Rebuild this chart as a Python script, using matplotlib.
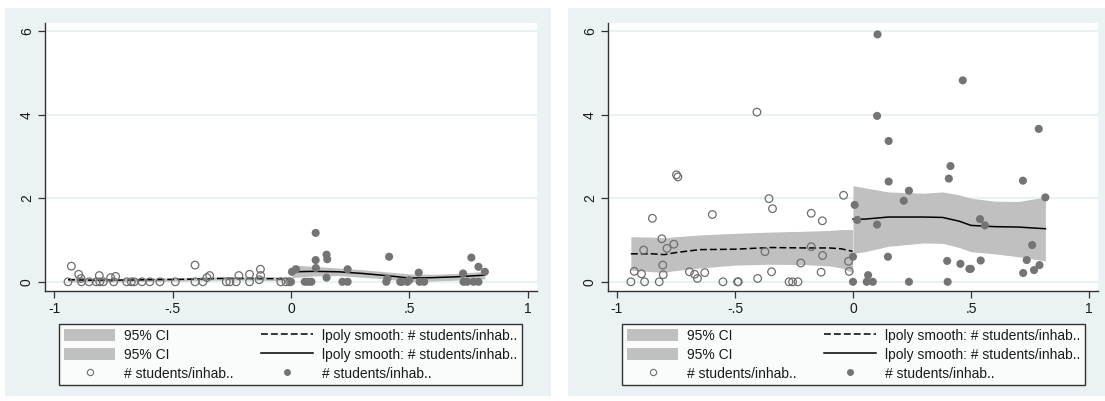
import matplotlib
matplotlib.use("Agg")
import matplotlib.pyplot as plt
from matplotlib.patches import Rectangle, Patch
from matplotlib.lines import Line2D

plt.rcParams['font.family'] = ['Liberation Sans', 'DejaVu Sans']

# ---------------- data ----------------
x_ticks = [-1, -0.5, 0, 0.5, 1]
x_tick_labels = ["-1", "-.5", "0", ".5", "1"]
y_ticks = [0, 2, 4, 6]
y_tick_labels = ["0", "2", "4", "6"]

legend_labels = ["95% CI", "95% CI", "# students/inhab..",
                 "lpoly smooth: # students/inhab..", "lpoly smooth: # students/inhab..",
                 "# students/inhab.."]

# Left panel: scatter (hollow = left of cutoff, filled = right of cutoff)
L_hollow_x = [-0.941, -0.927, -0.896, -0.886, -0.884, -0.852, -0.822, -0.809, -0.807, -0.792,
              -0.761, -0.748, -0.740, -0.693, -0.674, -0.662, -0.629, -0.596, -0.553, -0.488,
              -0.405, -0.405, -0.372, -0.355, -0.343, -0.273, -0.258, -0.231, -0.220, -0.175,
              -0.175, -0.129, -0.128, -0.134, -0.043, -0.021, -0.006]
L_hollow_y = [0.0, 0.375, 0.18, 0.08, 0.0, 0.0, 0.0, 0.15, 0.0, 0.0,
              0.10, 0.0, 0.13, 0.0, 0.0, 0.0, 0.0, 0.0, 0.0, 0.0,
              0.40, 0.0, 0.0, 0.10, 0.15, 0.0, 0.0, 0.0, 0.15, 0.18,
              0.0, 0.30, 0.15, 0.05, 0.0, 0.0, 0.0]
L_filled_x = [0.0, 0.004, 0.021, 0.058, 0.073, 0.086, 0.104, 0.104, 0.105, 0.150,
              0.153, 0.150, 0.217, 0.239, 0.239, 0.402, 0.407, 0.414, 0.461, 0.469,
              0.491, 0.499, 0.539, 0.543, 0.562, 0.726, 0.728, 0.743, 0.761, 0.770,
              0.791, 0.791, 0.818]
L_filled_y = [0.0, 0.24, 0.30, 0.0, 0.0, 0.0, 1.17, 0.52, 0.33, 0.65,
              0.54, 0.10, 0.0, 0.0, 0.30, 0.0, 0.08, 0.60, 0.0, 0.0,
              0.0, 0.04, 0.22, 0.0, 0.0, 0.20, 0.0, 0.0, 0.58, 0.0,
              0.36, 0.0, 0.24]

# Left panel: local polynomial smooths and CIs
L_ctl_x = [-0.941, -0.85, -0.75, -0.6, -0.45, -0.3, -0.15, -0.006]
L_ctl_y = [0.05, 0.04, 0.04, 0.05, 0.06, 0.08, 0.08, 0.07]
L_ctl_lo = [0.00, 0.00, 0.00, 0.01, 0.02, 0.04, 0.04, 0.02]
L_ctl_hi = [0.10, 0.08, 0.08, 0.09, 0.10, 0.12, 0.12, 0.12]
L_trt_x = [0.004, 0.1, 0.2, 0.3, 0.4, 0.5, 0.6, 0.7, 0.818]
L_trt_y = [0.24, 0.25, 0.24, 0.20, 0.15, 0.09, 0.10, 0.12, 0.16]
L_trt_lo = [0.10, 0.14, 0.15, 0.11, 0.07, 0.00, 0.02, 0.04, 0.07]
L_trt_hi = [0.40, 0.37, 0.33, 0.29, 0.24, 0.19, 0.18, 0.20, 0.25]

# Right panel: scatter
R_hollow_x = [-0.941, -0.927, -0.896, -0.887, -0.883, -0.850, -0.821, -0.810, -0.806, -0.804,
              -0.788, -0.759, -0.748, -0.742, -0.693, -0.671, -0.659, -0.628, -0.596, -0.551,
              -0.489, -0.486, -0.407, -0.404, -0.373, -0.356, -0.345, -0.341, -0.271, -0.256,
              -0.233, -0.221, -0.177, -0.177, -0.135, -0.130, -0.129, -0.040, -0.019, -0.016]
R_hollow_y = [0.0, 0.25, 0.19, 0.76, 0.0, 1.52, 0.0, 1.03, 0.40, 0.17,
              0.80, 0.90, 2.56, 2.51, 0.24, 0.18, 0.08, 0.22, 1.61, 0.0,
              0.0, 0.0, 4.06, 0.08, 0.72, 1.99, 0.24, 1.75, 0.0, 0.0,
              0.0, 0.45, 1.64, 0.84, 0.23, 1.46, 0.63, 2.07, 0.49, 0.25]
R_filled_x = [0.0, 0.0, 0.007, 0.018, 0.058, 0.064, 0.084, 0.102, 0.102, 0.104,
              0.148, 0.151, 0.151, 0.215, 0.237, 0.237, 0.399, 0.401, 0.406, 0.413,
              0.455, 0.465, 0.493, 0.499, 0.538, 0.541, 0.559, 0.720, 0.721, 0.736,
              0.759, 0.767, 0.787, 0.790, 0.815]
R_filled_y = [0.0, 0.60, 1.84, 1.48, 0.0, 0.16, 0.0, 1.37, 3.97, 5.92,
              0.60, 2.40, 3.37, 1.94, 2.18, 0.0, 0.50, 0.0, 2.47, 2.77,
              0.43, 4.82, 0.31, 0.31, 1.50, 0.51, 1.35, 2.42, 0.21, 0.52,
              0.88, 0.28, 3.66, 0.40, 2.02]

# Right panel: smooths and CIs
R_ctl_x = [-0.941, -0.85, -0.80, -0.75, -0.65, -0.5, -0.35, -0.2, -0.1, -0.05, -0.002]
R_ctl_y = [0.67, 0.67, 0.65, 0.70, 0.77, 0.78, 0.82, 0.81, 0.81, 0.79, 0.73]
R_ctl_lo = [0.28, 0.24, 0.23, 0.27, 0.33, 0.40, 0.42, 0.41, 0.38, 0.33, 0.22]
R_ctl_hi = [1.08, 1.07, 1.05, 1.08, 1.12, 1.16, 1.19, 1.21, 1.23, 1.25, 1.25]
R_trt_x = [0.0, 0.05, 0.15, 0.3, 0.38, 0.45, 0.5, 0.6, 0.7, 0.815]
R_trt_y = [1.50, 1.50, 1.55, 1.55, 1.54, 1.45, 1.35, 1.32, 1.31, 1.27]
R_trt_lo = [0.68, 0.72, 0.85, 0.93, 0.92, 0.82, 0.72, 0.67, 0.60, 0.50]
R_trt_hi = [2.30, 2.25, 2.15, 2.12, 2.15, 2.08, 2.00, 1.93, 1.92, 2.03]

# ---------------- style ----------------
BG = "#EAF2F3"
GRID = "#E6EFF1"
CI_COL = "#C0C0C0"
HOLLOW_EDGE = "#6E6E6E"
FILLED = "#747474"
TXT = "#1a1a1a"

W, H = 1105, 401
fig = plt.figure(figsize=(W / 100, H / 100), dpi=100)
fig.patch.set_facecolor("white")


def fx(px):
    return px / W


def fy(py):
    return 1 - py / H


# panel backgrounds
for x0, x1 in [(5, 551), (568, 1105)]:
    fig.patches.append(Rectangle((fx(x0), fy(396)), fx(x1) - fx(x0), fy(8) - fy(396),
                                 transform=fig.transFigure, facecolor=BG,
                                 edgecolor="none", zorder=-10))


def panel(ax_px, leg_px, hx, hy, fxs, fys, cx, cy, clo, chi, tx, ty, tlo, thi):
    x0, x1, y0, y1 = ax_px
    ax = fig.add_axes([fx(x0), fy(y1), fx(x1) - fx(x0), fy(y0) - fy(y1)])
    ax.set_facecolor("white")
    ax.set_xlim(-1.038, 1.038)
    ax.set_ylim(-0.22, 6.2)
    for g in y_ticks:
        ax.axhline(g, color=GRID, lw=1.2, zorder=0)
    ci1 = ax.fill_between(cx, clo, chi, color=CI_COL, lw=0, zorder=1)
    ln1, = ax.plot(cx, cy, color="black", lw=1.1, ls=(0, (4.5, 2)), zorder=2)
    ci2 = ax.fill_between(tx, tlo, thi, color=CI_COL, lw=0, zorder=1)
    ln2, = ax.plot(tx, ty, color="black", lw=1.1, zorder=2)
    ax.scatter(hx, hy, s=30, facecolors="none", edgecolors=HOLLOW_EDGE, linewidths=0.9, zorder=3)
    ax.scatter(fxs, fys, s=34, color=FILLED, edgecolors="none", zorder=3)

    ax.set_xticks(x_ticks)
    ax.set_xticklabels(x_tick_labels)
    ax.set_yticks(y_ticks)
    ax.set_yticklabels(y_tick_labels, rotation=90, va="center")
    ax.tick_params(axis="both", direction="out", length=5, width=0.9, color="#333333",
                   labelsize=10, labelcolor=TXT, pad=3)
    for s in ["top", "right"]:
        ax.spines[s].set_visible(False)
    for s in ["left", "bottom"]:
        ax.spines[s].set_color("#333333")
        ax.spines[s].set_linewidth(1.0)

    hollow_h = Line2D([], [], ls="none", marker="o", markersize=4.5, markerfacecolor="none",
                      markeredgecolor=HOLLOW_EDGE, markeredgewidth=0.8)
    filled_h = Line2D([], [], ls="none", marker="o", markersize=5, markerfacecolor=FILLED,
                      markeredgecolor="none")
    ci_h1 = Patch(facecolor=CI_COL, edgecolor="none")
    ci_h2 = Patch(facecolor=CI_COL, edgecolor="none")
    dash_h = Line2D([], [], color="black", lw=1.1, ls=(0, (4.5, 2)))
    solid_h = Line2D([], [], color="black", lw=1.1)
    lx0, lx1, ly0, ly1 = leg_px
    leg = fig.legend([ci_h1, ci_h2, hollow_h, dash_h, solid_h, filled_h], legend_labels,
                     ncol=2, loc="center",
                     bbox_to_anchor=(fx(lx0), fy(ly1), fx(lx1) - fx(lx0), fy(ly0) - fy(ly1)),
                     bbox_transform=fig.transFigure, mode="expand",
                     frameon=True, fancybox=False, shadow=False, fontsize=10,
                     handlelength=3.7, handleheight=1.0, handletextpad=0.65,
                     columnspacing=1.4, labelspacing=0.35, borderpad=0.35,
                     borderaxespad=0)
    leg.get_frame().set_edgecolor("black")
    leg.get_frame().set_linewidth(1.0)
    for t in leg.get_texts():
        t.set_color(TXT)
    return ax


panel((45, 537, 22.7, 291), (59, 522, 322.7, 386.7),
      L_hollow_x, L_hollow_y, L_filled_x, L_filled_y,
      L_ctl_x, L_ctl_y, L_ctl_lo, L_ctl_hi, L_trt_x, L_trt_y, L_trt_lo, L_trt_hi)
panel((608, 1098, 22.7, 291), (622, 1085, 322.7, 386.7),
      R_hollow_x, R_hollow_y, R_filled_x, R_filled_y,
      R_ctl_x, R_ctl_y, R_ctl_lo, R_ctl_hi, R_trt_x, R_trt_y, R_trt_lo, R_trt_hi)

fig.savefig("out.png", dpi=100, facecolor="white")
